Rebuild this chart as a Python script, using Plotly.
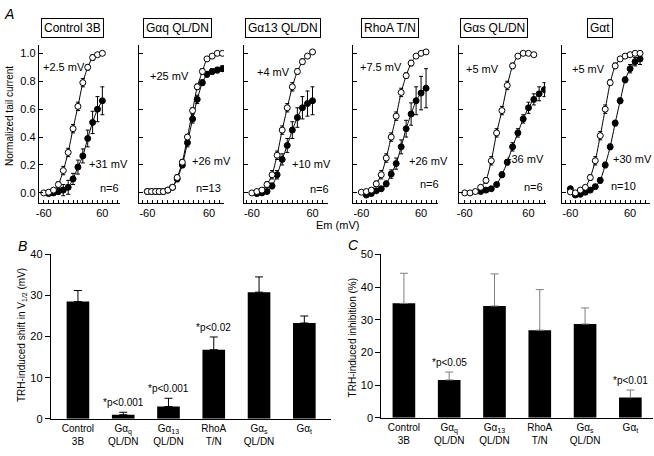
import plotly.graph_objects as go

# ---- panel A: normalized tail current vs Em (open = control, filled = TRH)
ctrl_v_open = [-60, -50, -40, -30, -20, -10, 0, 10, 20, 30, 40, 50, 60]
ctrl_open = [0.0, 0.005, 0.02, 0.06, 0.16, 0.29, 0.46, 0.62, 0.79, 0.90, 0.97, 0.99, 1.0]
ctrl_open_err = [0, 0, 0.01, 0.02, 0.03, 0.03, 0.03, 0.03, 0.03, 0.02, 0.02, 0.01, 0.01]
ctrl_v_trh = [-50, -40, -30, -20, -10, 0, 10, 20, 30, 40, 50, 60]
ctrl_trh = [-0.005, 0.0, 0.01, 0.02, 0.04, 0.10, 0.185, 0.265, 0.39, 0.505, 0.60, 0.66]
ctrl_trh_err = [0.01, 0.01, 0.02, 0.04, 0.05, 0.04, 0.05, 0.05, 0.06, 0.08, 0.09, 0.10]

gq_v = [-60, -52, -44, -37, -29, -20, -11, -2, 8, 18, 28, 37, 47, 56, 66, 76, 86]
gq_open = [0.01, 0.01, 0.01, 0.01, 0.01, 0.02, 0.04, 0.11, 0.22, 0.40, 0.59, 0.76, 0.87, 0.96, 0.98, 1.0, 1.0]
gq_open_err = [0, 0, 0, 0, 0, 0.01, 0.01, 0.02, 0.02, 0.02, 0.02, 0.02, 0.02, 0.01, 0.01, 0.01, 0.01]
gq_trh = [0.01, 0.01, 0.01, 0.01, 0.01, 0.02, 0.04, 0.10, 0.20, 0.36, 0.53, 0.67, 0.79, 0.85, 0.87, 0.88, 0.89]
gq_trh_err = [0, 0, 0, 0, 0, 0.01, 0.01, 0.02, 0.02, 0.03, 0.03, 0.03, 0.02, 0.02, 0.02, 0.02, 0.02]

g13_v_open = [-60, -50, -40, -30, -20, -10, 0, 10, 20, 30, 40, 50, 60]
g13_open = [0.0, 0.01, 0.02, 0.06, 0.13, 0.27, 0.45, 0.61, 0.76, 0.87, 0.94, 0.98, 1.01]
g13_open_err = [0, 0, 0.01, 0.02, 0.03, 0.03, 0.03, 0.03, 0.03, 0.02, 0.02, 0.01, 0.01]
g13_v_trh = [-50, -40, -30, -20, -10, 0, 10, 20, 30, 40, 50, 60]
g13_trh = [-0.005, 0.0, 0.01, 0.05, 0.13, 0.24, 0.34, 0.45, 0.54, 0.61, 0.64, 0.66]
g13_trh_err = [0.01, 0.01, 0.01, 0.02, 0.03, 0.04, 0.05, 0.06, 0.07, 0.08, 0.09, 0.10]

rho_v_open = [-60, -50, -40, -30, -20, -10, 0, 10, 20, 30, 40, 50, 60, 70]
rho_open = [0.005, 0.01, 0.02, 0.065, 0.13, 0.25, 0.40, 0.55, 0.72, 0.84, 0.93, 0.98, 1.0, 1.01]
rho_open_err = [0, 0, 0.01, 0.02, 0.03, 0.03, 0.03, 0.03, 0.03, 0.02, 0.02, 0.01, 0.01, 0.01]
rho_v_trh = [-50, -40, -30, -20, -10, 0, 10, 20, 30, 40, 50, 60, 70]
rho_trh = [-0.015, -0.005, 0.015, 0.03, 0.065, 0.135, 0.21, 0.33, 0.46, 0.565, 0.66, 0.715, 0.75]
rho_trh_err = [0.01, 0.01, 0.01, 0.01, 0.02, 0.03, 0.04, 0.05, 0.06, 0.08, 0.10, 0.12, 0.14]

gs_v_open = [-60, -50, -40, -30, -20, -10, 0, 10, 20, 30, 40, 50, 60, 70]
gs_open = [0.0, 0.0, 0.01, 0.04, 0.09, 0.23, 0.43, 0.59, 0.77, 0.91, 0.98, 1.0, 1.0, 0.99]
gs_open_err = [0, 0, 0.01, 0.01, 0.02, 0.03, 0.03, 0.03, 0.03, 0.02, 0.01, 0.01, 0.01, 0.01]
gs_v_trh = [-30, -20, -10, 0, 10, 20, 30, 40, 50, 60, 70, 80, 90]
gs_trh = [0.01, 0.02, 0.03, 0.06, 0.13, 0.22, 0.33, 0.43, 0.53, 0.61, 0.67, 0.71, 0.74]
gs_trh_err = [0.01, 0.01, 0.01, 0.01, 0.02, 0.02, 0.03, 0.03, 0.03, 0.04, 0.04, 0.05, 0.05]

gt_v = [-60, -50, -40, -30, -20, -10, 0, 10, 20, 30, 40, 50, 60, 70, 80]
gt_open = [0.007, 0.0, 0.02, 0.04, 0.11, 0.23, 0.41, 0.60, 0.79, 0.91, 0.96, 0.98, 0.99, 1.0, 1.0]
gt_open_err = [0, 0, 0.01, 0.01, 0.02, 0.03, 0.03, 0.03, 0.02, 0.02, 0.01, 0.01, 0.01, 0.01, 0.01]
gt_trh = [0.03, -0.015, -0.01, 0.005, 0.02, 0.045, 0.09, 0.20, 0.33, 0.50, 0.66, 0.81, 0.89, 0.94, 0.96]
gt_trh_err = [0.01, 0.01, 0.01, 0.01, 0.01, 0.01, 0.02, 0.02, 0.02, 0.02, 0.02, 0.02, 0.03, 0.03, 0.04]

panel_titles = ["Control 3B", "Gαq QL/DN", "Gα13 QL/DN", "RhoA T/N", "Gαs QL/DN", "Gαt"]
v_half_ctrl = ["+2.5 mV", "+25 mV", "+4 mV", "+7.5 mV", "+5 mV", "+5 mV"]
v_half_trh = ["+31 mV", "+26 mV", "+10 mV", "+26 mV", "+36 mV", "+30 mV"]
n_cells = ["n=6", "n=13", "n=6", "n=6", "n=6", "n=10"]

# ---- panels B and C
categories = ["Control<br>3B", "Gα<sub>q</sub><br>QL/DN", "Gα<sub>13</sub><br>QL/DN",
              "RhoA<br>T/N", "Gα<sub>s</sub><br>QL/DN", "Gα<sub>t</sub>"]
shift_v12 = [28.5, 1.0, 3.0, 16.8, 30.8, 23.3]
shift_err = [2.7, 0.6, 2.0, 3.1, 3.7, 1.7]
shift_sig = ["", "*p&lt;0.001", "*p&lt;0.001", "*p&lt;0.02", "", ""]
inhibition = [35.0, 11.6, 34.2, 26.8, 28.7, 6.2]
inhib_err = [9.2, 2.4, 9.8, 12.4, 4.9, 2.3]
inhib_sig = ["", "*p&lt;0.05", "", "", "", "*p&lt;0.01"]

W, H = 654, 456
FONT = "Liberation Sans"


def fx(p):
    return p / W


def fy(p):
    return 1 - p / H


panels = [
    (ctrl_v_open, ctrl_open, ctrl_open_err, ctrl_v_trh, ctrl_trh, ctrl_trh_err),
    (gq_v, gq_open, gq_open_err, gq_v, gq_trh, gq_trh_err),
    (g13_v_open, g13_open, g13_open_err, g13_v_trh, g13_trh, g13_trh_err),
    (rho_v_open, rho_open, rho_open_err, rho_v_trh, rho_trh, rho_trh_err),
    (gs_v_open, gs_open, gs_open_err, gs_v_trh, gs_trh, gs_trh_err),
    (gt_v, gt_open, gt_open_err, gt_v, gt_trh, gt_trh_err),
]
# pixel layout of the six small plots
a_left = [36, 137, 242, 352, 458, 562]
a_right = [118, 222, 326, 437, 545, 650]
a_xrange = [[-70, 97], [-75.5, 89], [-75.7, 89.6], [-76, 94], [-71, 92], [-76, 100]]
title_cx = [70, 175, 281, 389, 493, 600]
lbl1_xy = [(61, 63), (167, 72), (272, 68), (380, 63), (482, 65), (588, 65)]
lbl2_xy = [(106, 162), (209, 159), (310, 162), (427, 159), (524, 157), (632, 157)]
n_xy = [(107, 187), (206, 187), (318, 188), (428, 183), (533, 186), (623, 185)]

fig = go.Figure()
layout = {}
annotations = []


def note(x, y, text, size=11, **kw):
    d = dict(x=fx(x), y=fy(y), xref="paper", yref="paper", text=text, showarrow=False,
             xanchor="center", yanchor="middle", font=dict(size=size))
    d.update(kw)
    annotations.append(d)


for i, (vo, yo, eo, vt, yt, et) in enumerate(panels):
    k = "" if i == 0 else str(i + 1)
    xa, ya = "x" + k, "y" + k
    for vv, yy, ee, fill in [(vt, yt, et, "black"), (vo, yo, eo, "white")]:
        fig.add_trace(go.Scatter(
            x=vv, y=yy, xaxis=xa, yaxis=ya, mode="lines+markers",
            line=dict(color="black", width=1, shape="spline", smoothing=0.6),
            marker=dict(size=6, color=fill, line=dict(color="black", width=1)),
            error_y=dict(type="data", array=ee, color="black", thickness=1, width=2),
            showlegend=False, hoverinfo="skip"))
    layout["xaxis" + k] = dict(
        domain=[fx(a_left[i]), fx(a_right[i])], range=a_xrange[i], anchor=ya,
        showline=True, linecolor="black", linewidth=1, showgrid=False, zeroline=False,
        ticks="inside", ticklen=3, tickcolor="black", tickvals=[-60, 60], ticktext=["-60", "60"],
        minor=dict(tickvals=list(range(-70, 101, 10)), ticks="inside", ticklen=3,
                   tickcolor="black", showgrid=False),
        tickfont=dict(size=11, family=FONT, color="black"))
    layout["yaxis" + k] = dict(
        domain=[fy(202), fy(40)], range=[-0.07, 1.06], anchor=xa,
        showline=True, linecolor="black", linewidth=1, showgrid=False, zeroline=False,
        ticks="inside", ticklen=4, tickcolor="black", tickvals=[0, 0.2, 0.4, 0.6, 0.8, 1.0],
        tickformat=".1f", showticklabels=(i == 0),
        tickfont=dict(size=11, family=FONT, color="black"))
    note(title_cx[i], 22.5, panel_titles[i], 12, bordercolor="black", borderwidth=1, borderpad=2)
    for txt, (cx, cy) in [(v_half_ctrl[i], lbl1_xy[i]), (v_half_trh[i], lbl2_xy[i]),
                          (n_cells[i], n_xy[i])]:
        note(cx, cy, txt)

# bar panels
bar_specs = [
    ("7", shift_v12, shift_err, shift_sig, "black", [48, 330], [255, 424], [0, 40], [-0.6, 5.6]),
    ("8", inhibition, inhib_err, inhib_sig, "#7f7f7f", [380, 653], [255, 423], [0, 50], [-0.5, 5.5]),
]
for k, vals, errs, sig, ecol, xd, yd, yr, xr in bar_specs:
    fig.add_trace(go.Bar(
        x=categories, y=vals, xaxis="x" + k, yaxis="y" + k, width=0.5,
        marker=dict(color="black", line=dict(width=0)),
        error_y=dict(type="data", symmetric=False, array=errs, arrayminus=[0] * len(errs),
                     color=ecol, thickness=1, width=4),
        showlegend=False, hoverinfo="skip"))
    layout["xaxis" + k] = dict(
        domain=[fx(xd[0]), fx(xd[1])], range=xr, anchor="y" + k, type="category",
        showline=True, linecolor="black", linewidth=1, showgrid=False, zeroline=False,
        ticks="", tickfont=dict(size=10, family=FONT, color="black"))
    layout["yaxis" + k] = dict(
        domain=[fy(yd[1]), fy(yd[0])], range=yr, anchor="x" + k,
        showline=True, linecolor="black", linewidth=1, showgrid=False, zeroline=False,
        ticks="outside", ticklen=5, tickcolor="black", dtick=10,
        tickfont=dict(size=11, family=FONT, color="black"))
    for c, v, e, s in zip(categories, vals, errs, sig):
        if s:
            annotations.append(dict(x=c, y=v + e, xref="x" + k, yref="y" + k, text=s,
                                    showarrow=False, xanchor="center", yanchor="bottom",
                                    yshift=2, font=dict(size=10)))

note(336, 225, "Em (mV)")
note(6, 113, "Normalized tail current", 10, textangle=-90)
note(19, 338, "TRH-induced shift in V<sub>1/2</sub> (mV)", 10, textangle=-90)
note(351, 340, "TRH-induced inhibition (%)", 10, textangle=-90)
note(6, 8, "<i>A</i>", 14)
note(20, 246, "<i>B</i>", 14)
note(352, 245, "<i>C</i>", 14)

fig.update_layout(
    width=W, height=H, autosize=False,
    margin=dict(l=0, r=0, t=0, b=0),
    paper_bgcolor="white", plot_bgcolor="white",
    font=dict(family=FONT, size=11, color="black"),
    annotations=annotations, **layout)

fig.write_html("out.html", config={"displayModeBar": False},
               post_script="document.body.style.margin='0';")
